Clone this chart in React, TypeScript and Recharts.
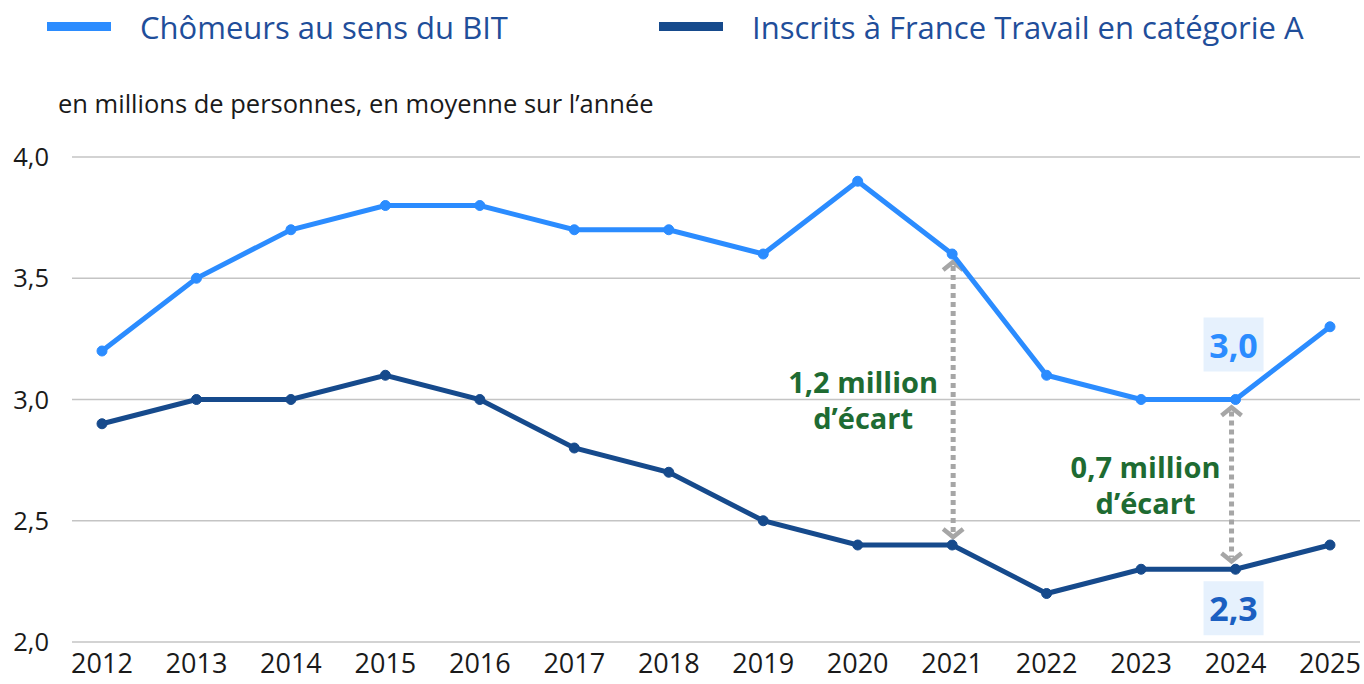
import {
  CartesianGrid,
  Line,
  LineChart,
  ReferenceDot,
  ReferenceLine,
  XAxis,
  YAxis,
} from "recharts";

const years = ["2012", "2013", "2014", "2015", "2016", "2017", "2018", "2019", "2020", "2021", "2022", "2023", "2024", "2025"];
const chomeursBIT = [3.2, 3.5, 3.7, 3.8, 3.8, 3.7, 3.7, 3.6, 3.9, 3.6, 3.1, 3.0, 3.0, 3.3];
const inscritsCatA = [2.9, 3.0, 3.0, 3.1, 3.0, 2.8, 2.7, 2.5, 2.4, 2.4, 2.2, 2.3, 2.3, 2.4];
const yTicks = [2, 2.5, 3, 3.5, 4];

const FONT = "'Open Sans', 'Noto Sans', sans-serif";
const LIGHT = "#2B8CFF";
const DARK = "#164A8C";
const GREEN = "#1E6B32";

const data = years.map((year, i) => ({
  year,
  bit: chomeursBIT[i],
  catA: inscritsCatA[i],
}));

const fmt = (v: number) => v.toFixed(1).replace(".", ",");

// dotted double arrow + green caption on its left
function gapArrow(lines: string[], dx: number, shift: number) {
  return (props: any) => {
    const { x1, y1, x2, y2 } = props;
    const top = Math.min(y1, y2) + 7;
    const bot = Math.max(y1, y2) - 7;
    const x = x1 + shift;
    const mid = (top + bot) / 2;
    return (
      <g>
        <line x1={x} y1={top + 5} x2={x} y2={bot - 5} stroke="#A6A6A6" strokeWidth={5} strokeDasharray="5 4" />
        <polyline points={`${x - 10},${top + 9} ${x},${top + 1} ${x + 10},${top + 9}`} fill="none" stroke="#A6A6A6" strokeWidth={4.5} />
        <polyline points={`${x - 10},${bot - 9} ${x},${bot - 1} ${x + 10},${bot - 9}`} fill="none" stroke="#A6A6A6" strokeWidth={4.5} />
        {lines.map((t, i) => (
          <text
            key={i}
            x={x + dx}
            y={mid - 18 + i * 36}
            textAnchor="middle"
            dominantBaseline="central"
            fontFamily={FONT}
            fontWeight={700}
            fontSize={29}
            fill={GREEN}
          >
            {t}
          </text>
        ))}
      </g>
    );
  };
}

function valueBadge(text: string, color: string, dy: number) {
  return (props: any) => {
    const { viewBox } = props;
    const cx = viewBox.x + (viewBox.width ?? 0) / 2 - 2;
    const cy = viewBox.y + (viewBox.height ?? 0) / 2 + dy;
    return (
      <g>
        <rect x={cx - 30} y={cy - 27} width={60} height={54} fill="#E6F1FD" />
        <text
          x={cx}
          y={cy}
          textAnchor="middle"
          dominantBaseline="central"
          fontFamily={FONT}
          fontWeight={700}
          fontSize={34}
          fill={color}
        >
          {text}
        </text>
      </g>
    );
  };
}

function LegendItem({ color, label, lineLeft, textLeft }: { color: string; label: string; lineLeft: number; textLeft: number }) {
  return (
    <>
      <div style={{ position: "absolute", left: lineLeft, top: 22, width: 64, height: 9, background: color }} />
      <div
        style={{
          position: "absolute",
          left: textLeft,
          top: 6,
          fontFamily: FONT,
          fontSize: 31,
          color: "#1F4E9A",
          whiteSpace: "nowrap",
          lineHeight: "42px",
        }}
      >
        {label}
      </div>
    </>
  );
}

export default function App() {
  return (
    <div style={{ position: "absolute", left: 0, top: 0, width: 1364, height: 684, background: "#fff" }}>
      <LegendItem color={LIGHT} label="Chômeurs au sens du BIT" lineLeft={47} textLeft={140} />
      <LegendItem color={DARK} label="Inscrits à France Travail en catégorie A" lineLeft={659} textLeft={752} />
      <div
        style={{
          position: "absolute",
          left: 58,
          top: 86,
          fontFamily: FONT,
          fontSize: 25.5,
          color: "#1a1a1a",
          whiteSpace: "nowrap",
          lineHeight: "34px",
        }}
      >
        en millions de personnes, en moyenne sur l’année
      </div>
      <div style={{ position: "absolute", left: 0, top: 0 }}>
        <LineChart width={1364} height={684} data={data} margin={{ top: 157, right: 4, bottom: 0, left: 0 }}>
          <CartesianGrid vertical={false} stroke="#C4C4C4" strokeWidth={1.5} />
          <XAxis
            dataKey="year"
            axisLine={false}
            tickLine={false}
            padding={{ left: 30, right: 30 }}
            height={42}
            tickMargin={6}
            interval={0}
            tick={{ fontFamily: FONT, fontSize: 27, fill: "#1a1a1a" }}
          />
          <YAxis
            domain={[2, 4]}
            ticks={yTicks}
            width={72}
            axisLine={false}
            tickLine={false}
            tickMargin={17}
            tickFormatter={fmt}
            tick={{ fontFamily: FONT, fontSize: 25.5, fill: "#1a1a1a" }}
          />
          <ReferenceLine
            segment={[{ x: "2021", y: 3.6 }, { x: "2021", y: 2.4 }]}
            shape={gapArrow(["1,2 million", "d’écart"], -90, 1)}
          />
          <ReferenceLine
            segment={[{ x: "2024", y: 3.0 }, { x: "2024", y: 2.3 }]}
            shape={gapArrow(["0,7 million", "d’écart"], -86, -4)}
          />
          <Line
            dataKey="bit"
            stroke={LIGHT}
            strokeWidth={5}
            dot={{ r: 5, fill: LIGHT, stroke: LIGHT, strokeWidth: 1 }}
            activeDot={false}
            isAnimationActive={false}
          />
          <Line
            dataKey="catA"
            stroke={DARK}
            strokeWidth={5}
            dot={{ r: 5, fill: DARK, stroke: DARK, strokeWidth: 1 }}
            activeDot={false}
            isAnimationActive={false}
          />
          <ReferenceDot x="2024" y={3.0} r={0} label={valueBadge("3,0", LIGHT, -55)} />
          <ReferenceDot x="2024" y={2.3} r={0} label={valueBadge("2,3", "#1B5FC1", 39)} />
        </LineChart>
      </div>
    </div>
  );
}
